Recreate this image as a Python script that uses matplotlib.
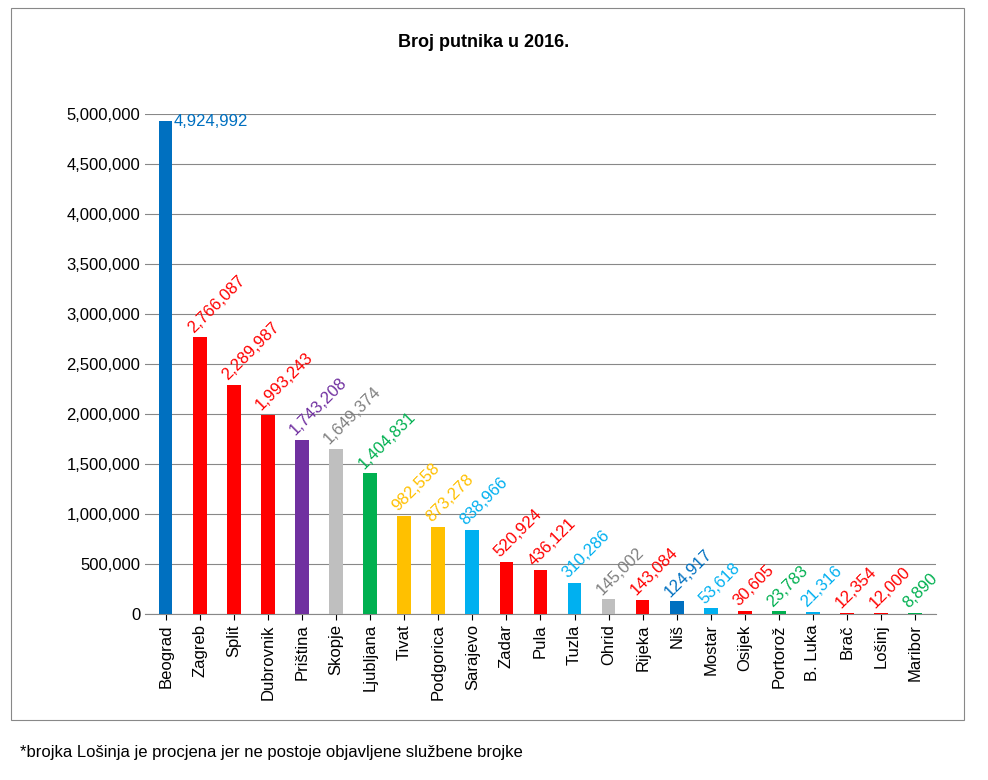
import matplotlib.pyplot as plt
from matplotlib.ticker import FuncFormatter
from matplotlib.patches import Rectangle

plt.rcParams['font.family'] = ['Liberation Sans', 'DejaVu Sans']

gradovi = ['Beograd', 'Zagreb', 'Split', 'Dubrovnik', 'Priština', 'Skopje', 'Ljubljana',
           'Tivat', 'Podgorica', 'Sarajevo', 'Zadar', 'Pula', 'Tuzla', 'Ohrid', 'Rijeka',
           'Niš', 'Mostar', 'Osijek', 'Portorož', 'B. Luka', 'Brač', 'Lošinj', 'Maribor']
putnici = [4924992, 2766087, 2289987, 1993243, 1743208, 1649374, 1404831,
           982558, 873278, 838966, 520924, 436121, 310286, 145002, 143084,
           124917, 53618, 30605, 23783, 21316, 12354, 12000, 8890]

B, R, P, G, Z, O, L = '#0070C0', '#FF0000', '#7030A0', '#BFBFBF', '#00B050', '#FFC000', '#00B0F0'
boje = [B, R, R, R, P, G, Z, O, O, L, R, R, L, G, R, B, L, R, Z, L, R, R, Z]
boje_oznaka = [c if c != G else '#808080' for c in boje]

fig = plt.figure(figsize=(9.88, 7.8), dpi=100)
fig.patches.append(Rectangle((0.011, 0.077), 0.965, 0.913, transform=fig.transFigure,
                             fill=False, edgecolor='#888888', lw=0.8))
ax = fig.add_axes([0.147, 0.213, 0.80, 0.641])

x = range(len(gradovi))
ax.bar(x, putnici, width=0.4, color=boje, zorder=3)
ax.set_ylim(0, 5000000)
ax.set_xlim(-0.6, len(gradovi) - 0.4)
ax.set_yticks(range(0, 5000001, 500000))
ax.yaxis.set_major_formatter(FuncFormatter(lambda v, p: f'{int(v):,}'))
ax.grid(axis='y', color='#888888', lw=0.8, zorder=0)
ax.set_xticks(list(x))
ax.set_xticklabels(gradovi, rotation=90, fontsize=12)
ax.tick_params(axis='y', labelsize=12, length=0)
ax.tick_params(axis='x', length=4)
for s in ['top', 'right', 'left']:
    ax.spines[s].set_visible(False)
ax.spines['bottom'].set_color('#888888')

for i, (v, c) in enumerate(zip(putnici, boje_oznaka)):
    if i == 0:
        ax.text(i + 0.22, v, f'{v:,}', color=c, fontsize=12, va='center', ha='left')
    else:
        ax.text(i - 0.12, v + 20000, f'{v:,}', color=c, fontsize=12, rotation=45,
                ha='left', va='bottom', rotation_mode='anchor')

fig.text(0.49, 0.94, 'Broj putnika u 2016.', ha='center', fontsize=13, fontweight='bold')
fig.text(0.02, 0.03, '*brojka Lošinja je procjena jer ne postoje objavljene službene brojke',
         fontsize=12)

fig.savefig('out.png', dpi=100)
